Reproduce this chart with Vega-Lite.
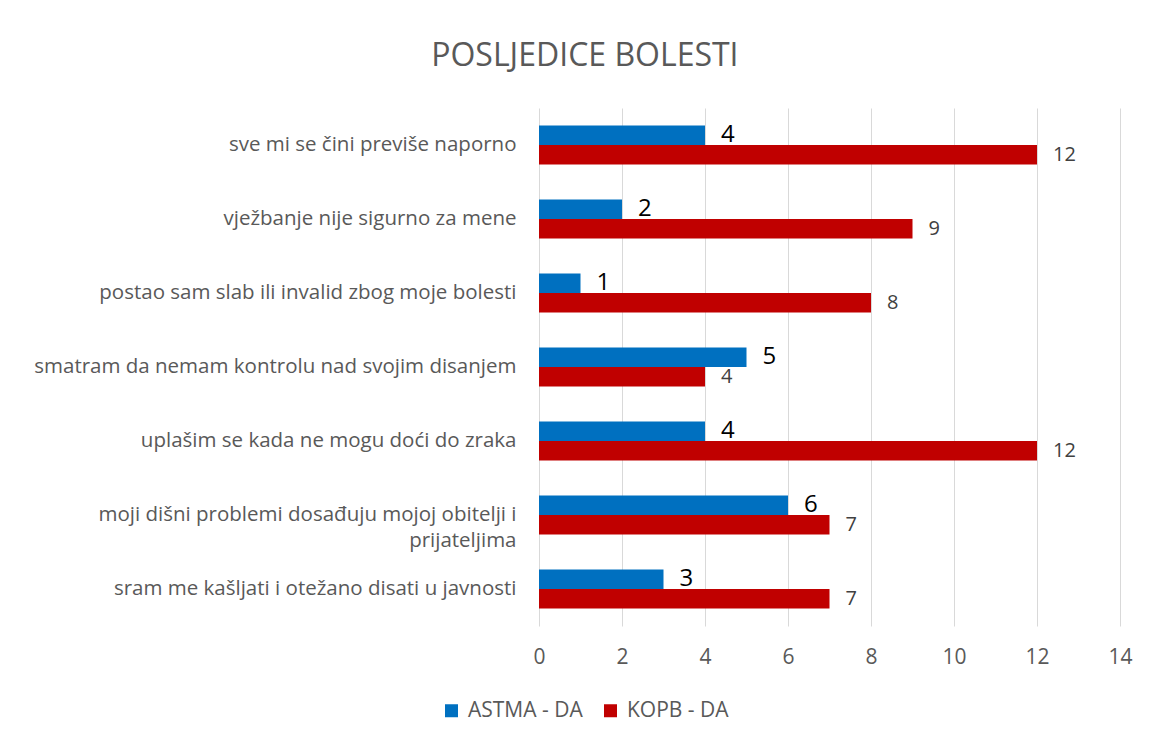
{
  "$schema": "https://vega.github.io/schema/vega-lite/v6.json",
  "width": 581,
  "height": 518,
  "padding": {"left": 33, "top": 40, "right": 30, "bottom": 10},
  "background": "white",
  "title": {
    "text": "POSLJEDICE BOLESTI",
    "font": "Open Sans",
    "fontSize": 32,
    "fontWeight": "normal",
    "color": "#595959",
    "anchor": "middle",
    "frame": "bounds",
    "dx": 2,
    "offset": 35
  },
  "config": {
    "view": {"stroke": null},
    "font": "Open Sans"
  },
  "data": {
    "values": [
      {"category": "sve mi se čini previše naporno", "series": "ASTMA - DA", "value": 4},
      {"category": "sve mi se čini previše naporno", "series": "KOPB - DA", "value": 12},
      {"category": "vježbanje nije sigurno za mene", "series": "ASTMA - DA", "value": 2},
      {"category": "vježbanje nije sigurno za mene", "series": "KOPB - DA", "value": 9},
      {"category": "postao sam slab ili invalid zbog moje bolesti", "series": "ASTMA - DA", "value": 1},
      {"category": "postao sam slab ili invalid zbog moje bolesti", "series": "KOPB - DA", "value": 8},
      {"category": "smatram da nemam kontrolu nad svojim disanjem", "series": "ASTMA - DA", "value": 5},
      {"category": "smatram da nemam kontrolu nad svojim disanjem", "series": "KOPB - DA", "value": 4},
      {"category": "uplašim se kada ne mogu doći do zraka", "series": "ASTMA - DA", "value": 4},
      {"category": "uplašim se kada ne mogu doći do zraka", "series": "KOPB - DA", "value": 12},
      {"category": "moji dišni problemi dosađuju mojoj obitelji i prijateljima", "series": "ASTMA - DA", "value": 6},
      {"category": "moji dišni problemi dosađuju mojoj obitelji i prijateljima", "series": "KOPB - DA", "value": 7},
      {"category": "sram me kašljati i otežano disati u javnosti", "series": "ASTMA - DA", "value": 3},
      {"category": "sram me kašljati i otežano disati u javnosti", "series": "KOPB - DA", "value": 7}
    ]
  },
  "encoding": {
    "y": {
      "field": "category",
      "type": "nominal",
      "sort": null,
      "scale": {"paddingInner": 0.47, "paddingOuter": 0.235},
      "axis": {
        "title": null,
        "domain": false,
        "ticks": false,
        "labelFont": "Open Sans",
        "labelFontSize": 20.5,
        "labelColor": "#595959",
        "labelPadding": 23,
        "labelLimit": 700,
        "labelLineHeight": 26,
        "labelExpr": "datum.value == 'moji dišni problemi dosađuju mojoj obitelji i prijateljima' ? ['moji dišni problemi dosađuju mojoj obitelji i', 'prijateljima'] : datum.value"
      }
    },
    "yOffset": {"field": "series", "type": "nominal", "sort": ["ASTMA - DA", "KOPB - DA"]},
    "x": {
      "field": "value",
      "type": "quantitative",
      "scale": {"domain": [0, 14]},
      "axis": {
        "title": null,
        "values": [0, 2, 4, 6, 8, 10, 12, 14],
        "domain": false,
        "ticks": false,
        "grid": true,
        "gridColor": "#d9d9d9",
        "gridWidth": 1,
        "labelFlush": false,
        "labelFont": "Open Sans",
        "labelFontSize": 21,
        "labelColor": "#595959",
        "labelPadding": 20
      }
    }
  },
  "layer": [
    {
      "mark": {"type": "bar"},
      "encoding": {
        "color": {
          "field": "series",
          "type": "nominal",
          "sort": ["ASTMA - DA", "KOPB - DA"],
          "scale": {"domain": ["ASTMA - DA", "KOPB - DA"], "range": ["#0070c0", "#c00000"]},
          "legend": {
            "title": null,
            "orient": "none",
            "direction": "horizontal",
            "legendX": -98,
            "legendY": 592,
            "symbolType": "square",
            "symbolSize": 169,
            "symbolStrokeWidth": 0,
            "labelFont": "Open Sans",
            "labelFontSize": 21,
            "labelColor": "#595959",
            "columnPadding": 17,
            "labelOffset": 6
          }
        }
      }
    },
    {
      "transform": [{"filter": "datum.series == 'ASTMA - DA'"}],
      "mark": {"type": "text", "align": "left", "baseline": "middle", "dx": 16, "fontSize": 24, "color": "#000000", "font": "Open Sans"},
      "encoding": {"text": {"field": "value", "type": "quantitative"}}
    },
    {
      "transform": [{"filter": "datum.series == 'KOPB - DA'"}],
      "mark": {"type": "text", "align": "left", "baseline": "middle", "dx": 16, "fontSize": 20, "color": "#404040", "font": "Open Sans"},
      "encoding": {"text": {"field": "value", "type": "quantitative"}}
    }
  ]
}
